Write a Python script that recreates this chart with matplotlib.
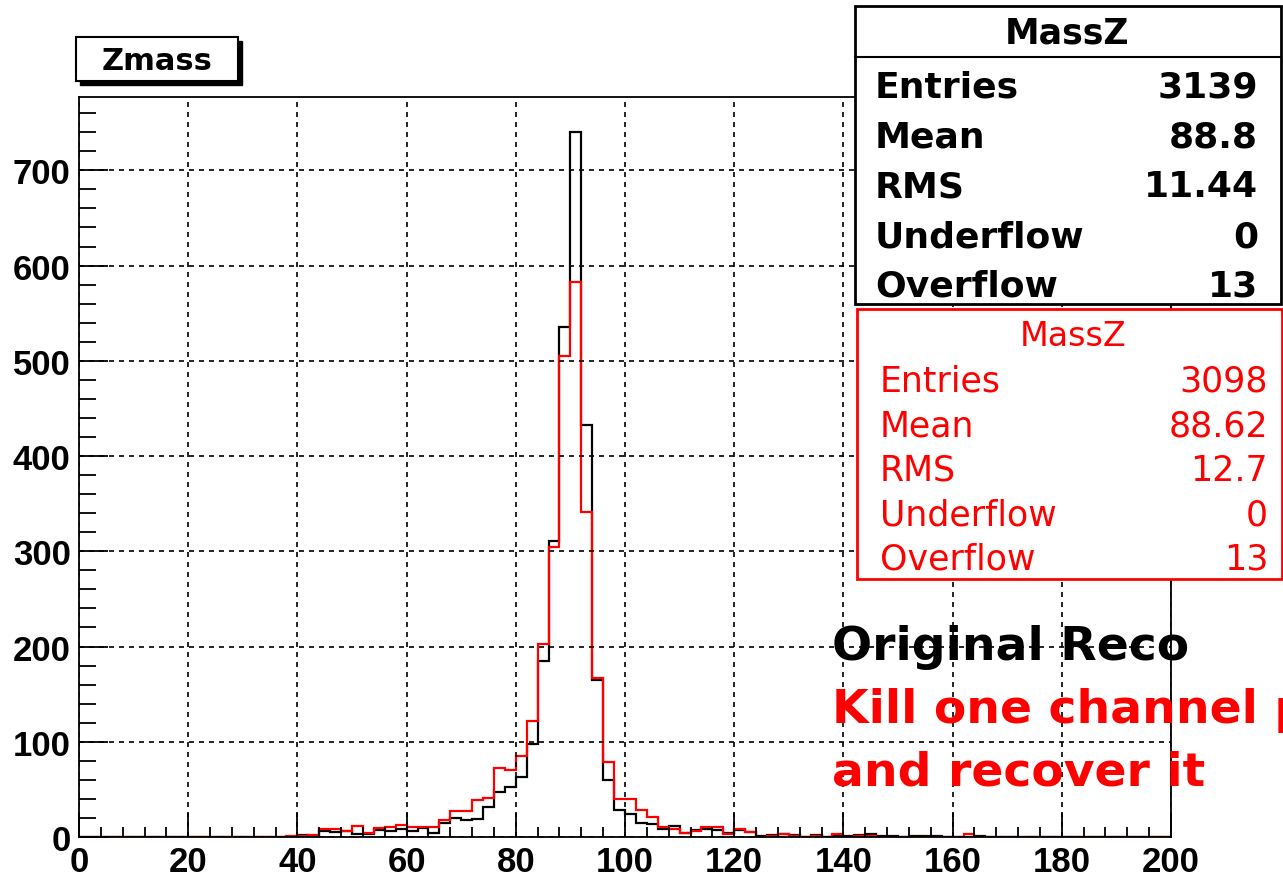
import numpy as np
import matplotlib
matplotlib.use('Agg')
import matplotlib.pyplot as plt
from matplotlib.patches import Rectangle
from matplotlib.ticker import MultipleLocator

# bins of 2 GeV from 0 to 200
bin_edges = np.arange(0, 202, 2)

# Original Reco (black)
black_counts = [
    0, 0, 0, 0, 0, 0, 0, 0, 0, 0,
    0, 0, 0, 0, 0, 0, 0, 0, 0, 0,
    2, 1, 6, 5, 6, 3, 3, 7, 6, 8,
    6, 9, 4, 15, 20, 18, 19, 32, 47, 53,
    63, 98, 185, 311, 536, 740, 433, 165, 60, 28,
    24, 15, 14, 8, 12, 4, 7, 8, 7, 4,
    7, 5, 1, 2, 3, 2, 0, 2, 0, 1,
    1, 2, 3, 1, 1, 0, 1, 1, 1, 0,
    0, 0, 1, 0, 0, 0, 0, 0, 0, 0,
    0, 0, 0, 0, 0, 0, 0, 0, 0, 0,
]

# Kill one channel and recover it (red)
red_counts = [
    0, 0, 0, 0, 0, 0, 0, 0, 0, 0,
    0, 0, 0, 0, 0, 0, 0, 0, 0, 1,
    1, 2, 8, 8, 6, 12, 4, 9, 11, 13,
    10, 10, 10, 18, 27, 27, 39, 41, 72, 70,
    85, 122, 203, 305, 505, 583, 341, 167, 79, 40,
    40, 28, 21, 11, 8, 4, 6, 11, 11, 3,
    8, 5, 0, 1, 3, 1, 0, 1, 0, 3,
    0, 1, 1, 0, 0, 0, 0, 0, 0, 0,
    0, 3, 0, 0, 0, 0, 0, 0, 0, 0,
    0, 0, 0, 0, 0, 0, 0, 0, 0, 0,
]

stat_names = ['Entries', 'Mean', 'RMS', 'Underflow', 'Overflow']
black_stats = ['3139', '88.8', '11.44', '0', '13']
red_stats = ['3098', '88.62', '12.7', '0', '13']

W, H = 1283, 878


# пиксели -> координаты фигуры
def px(x, y):
    return x / W, 1 - y / H


fig = plt.figure(figsize=(W / 100, H / 100), dpi=100)
ax = fig.add_axes([79 / W, 1 - 838 / H, (1171 - 79) / W, (838 - 98) / H])

ax.stairs(black_counts, bin_edges, color='black', linewidth=1.6)
ax.stairs(red_counts, bin_edges, color='red', linewidth=1.6)

ax.set_xlim(0, 200)
ax.set_ylim(0, 777)
ax.xaxis.set_major_locator(MultipleLocator(20))
ax.xaxis.set_minor_locator(MultipleLocator(4))
ax.yaxis.set_major_locator(MultipleLocator(100))
ax.yaxis.set_minor_locator(MultipleLocator(20))

ax.grid(True, which='major', color='black', linestyle=(0, (3, 3)), linewidth=1.2)

ax.tick_params(axis='x', which='major', direction='in', length=17, width=1.3, pad=6)
ax.tick_params(axis='x', which='minor', direction='in', length=7, width=1.3)
ax.tick_params(axis='y', which='major', direction='in', length=21, width=1.3, pad=6)
ax.tick_params(axis='y', which='minor', direction='in', length=12, width=1.3)
for lab in ax.get_xticklabels() + ax.get_yticklabels():
    lab.set_fontfamily('Liberation Sans')
    lab.set_fontweight('bold')
    lab.set_fontsize(25)
for sp in ax.spines.values():
    sp.set_linewidth(1.3)

# title box "Zmass" with shadow
fig.add_artist(Rectangle(px(80, 86), 162 / W, 44 / H, transform=fig.transFigure,
                         facecolor='black', edgecolor='black'))
fig.add_artist(Rectangle(px(76, 82), 162 / W, 44 / H, transform=fig.transFigure,
                         facecolor='white', edgecolor='black', linewidth=1.5))
fig.text(*px(157, 62), 'Zmass', ha='center', va='center', fontsize=22,
         fontweight='bold', family='DejaVu Sans')

# stats box (black)
fig.add_artist(Rectangle(px(855, 305), 426 / W, 298 / H, transform=fig.transFigure,
                         facecolor='white', edgecolor='black', linewidth=2))
fig.add_artist(plt.Line2D([855 / W, 1281 / W], [1 - 58 / H, 1 - 58 / H],
                          transform=fig.transFigure, color='black', linewidth=1.5))
fig.text(*px(1067, 34), 'MassZ', ha='center', va='center', fontsize=25,
         fontweight='bold', family='DejaVu Sans')
for i, (name, val) in enumerate(zip(stat_names, black_stats)):
    y = 88 + i * 49.7
    fig.text(*px(875, y), name, ha='left', va='center', fontsize=26,
             fontweight='bold', family='DejaVu Sans')
    fig.text(*px(1258, y), val, ha='right', va='center', fontsize=26,
             fontweight='bold', family='DejaVu Sans')

# stats box (red)
fig.add_artist(Rectangle(px(857, 580), 425 / W, 270 / H, transform=fig.transFigure,
                         facecolor='white', edgecolor='red', linewidth=2))
fig.text(*px(1073, 336), 'MassZ', ha='center', va='center', fontsize=24,
         color='red', family='DejaVu Sans')
for i, (name, val) in enumerate(zip(stat_names, red_stats)):
    y = 382 + i * 44.5
    fig.text(*px(880, y), name, ha='left', va='center', fontsize=25,
             color='red', family='DejaVu Sans')
    fig.text(*px(1268, y), val, ha='right', va='center', fontsize=25,
             color='red', family='DejaVu Sans')

# подписи
fig.text(*px(832, 648), 'Original Reco', ha='left', va='center', fontsize=34,
         fontweight='bold', family='DejaVu Sans', color='black')
fig.text(*px(832, 711), 'Kill one channel per', ha='left', va='center', fontsize=34,
         fontweight='bold', family='DejaVu Sans', color='red')
fig.text(*px(832, 773), 'and recover it', ha='left', va='center', fontsize=34,
         fontweight='bold', family='DejaVu Sans', color='red')

plt.savefig('out.png', dpi=100)
